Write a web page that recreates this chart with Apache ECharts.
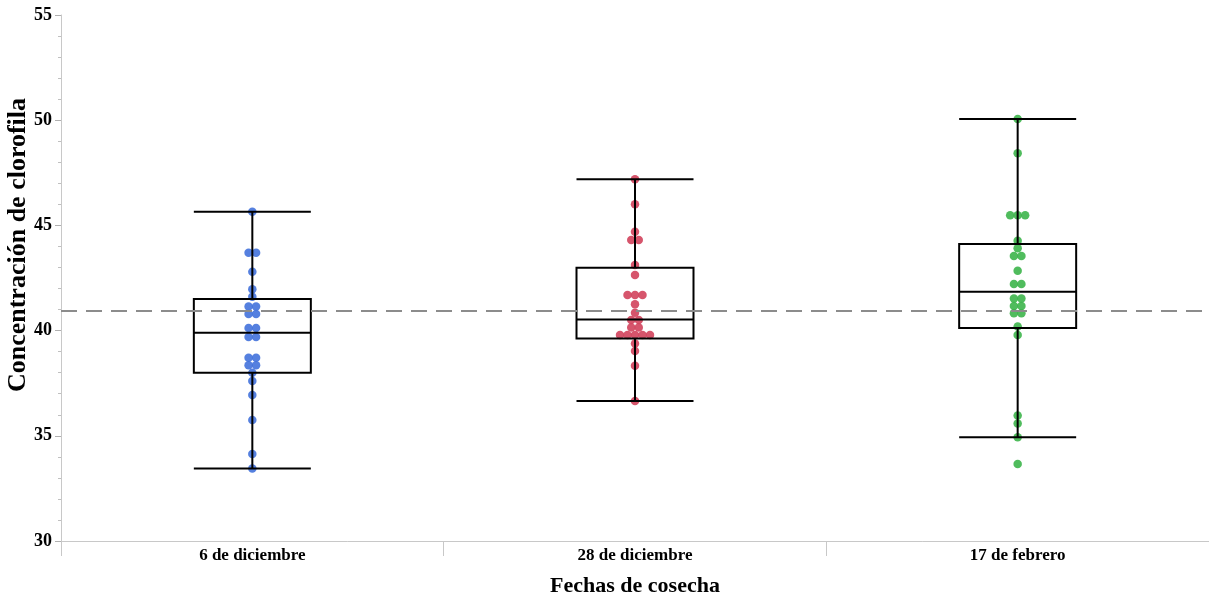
<!DOCTYPE html>
<html>
<head>
<meta charset="utf-8">
<script src="https://cdn.jsdelivr.net/npm/echarts@6/dist/echarts.min.js"></script>
<style>
  html, body { margin: 0; padding: 0; background: #fff; }
  #chart { width: 1209px; height: 602px; }
</style>
</head>
<body>
<div id="chart"></div>
<script>
// categorias y valores
var categories = ['6 de diciembre', '28 de diciembre', '17 de febrero'];

var dic6 = [45.65, 43.7, 43.7, 42.8, 41.96, 41.61, 41.15, 41.15, 40.79, 40.79,
  40.12, 40.12, 39.7, 39.7, 38.71, 38.71, 38.35, 38.35, 38.0, 37.6, 36.94, 35.75, 34.13, 33.45];
var dic28 = [47.19, 46.0, 44.7, 44.31, 44.31, 43.12, 42.64, 41.69, 41.69, 41.69, 41.25, 40.85,
  40.5, 40.5, 40.15, 40.15, 39.79, 39.79, 39.79, 39.79, 39.79, 39.39, 39.03, 38.33, 36.65];
var feb17 = [50.06, 48.43, 45.48, 45.48, 45.48, 44.27, 43.91, 43.55, 43.55, 42.85, 42.21, 42.21,
  41.53, 41.53, 41.17, 41.17, 40.82, 40.82, 40.19, 39.79, 35.96, 35.59, 34.93, 33.66];

// [min, Q1, mediana, Q3, max]
var cajas = [
  [33.45, 38.0, 39.9, 41.5, 45.65],
  [36.65, 39.63, 40.53, 42.99, 47.19],
  [34.93, 40.12, 41.85, 44.12, 50.06]
];
var mediaGeneral = 40.93;

var yTicks = [30, 35, 40, 45, 50, 55];
var colores = ['#4372dc', '#d2435c', '#3db54b'];

// separa horizontalmente los puntos con el mismo valor (tipo beeswarm)
function enjambre(vals, idx) {
  var cuenta = {};
  vals.forEach(function (v) { cuenta[v] = (cuenta[v] || 0) + 1; });
  var usados = {};
  return vals.map(function (v) {
    var n = cuenta[v];
    var i = usados[v] || 0;
    usados[v] = i + 1;
    return { value: [idx, v], symbolOffset: [(i - (n - 1) / 2) * 7.5, 0] };
  });
}

var fuente = 'Liberation Serif';
var myChart = echarts.init(document.getElementById('chart'));

var puntos = [dic6, dic28, feb17].map(function (vals, k) {
  return {
    type: 'scatter',
    data: enjambre(vals, k),
    symbolSize: 8.5,
    itemStyle: { color: colores[k], opacity: 0.9 },
    z: 2,
    silent: true
  };
});

var option = {
  animation: false,
  grid: { left: 61, right: 0, top: 15, bottom: 61, outerBoundsMode: 'none', containLabel: false },
  xAxis: {
    type: 'category',
    data: categories,
    boundaryGap: true,
    name: 'Fechas de cosecha',
    nameLocation: 'middle',
    nameGap: 34,
    nameMoveOverlap: false,
    nameTextStyle: { fontFamily: fuente, fontWeight: 'bold', fontSize: 22, color: '#000' },
    axisLine: { lineStyle: { color: '#c8c8c8', width: 1 } },
    axisTick: { show: true, interval: 0, length: 15, lineStyle: { color: '#c8c8c8' } },
    axisLabel: { fontFamily: fuente, fontWeight: 'bold', fontSize: 17, color: '#000', margin: 6 },
    splitLine: { show: false }
  },
  yAxis: {
    type: 'value',
    min: yTicks[0],
    max: yTicks[yTicks.length - 1],
    interval: 5,
    name: 'Concentración de clorofila',
    nameLocation: 'middle',
    nameGap: 30,
    nameMoveOverlap: false,
    nameTextStyle: {
      fontFamily: fuente, fontWeight: 'bold', fontSize: 26, color: '#000',
      padding: [0, 0, 0, 66]
    },
    axisLine: { show: true, lineStyle: { color: '#c8c8c8', width: 1 } },
    axisTick: { show: true, length: 6, lineStyle: { color: '#b0b0b0' } },
    minorTick: { show: true, splitNumber: 5, length: 3, lineStyle: { color: '#c0c0c0' } },
    axisLabel: { fontFamily: fuente, fontWeight: 'bold', fontSize: 18, color: '#000', margin: 9 },
    splitLine: { show: false }
  },
  series: puntos.concat([{
    type: 'boxplot',
    data: cajas,
    boxWidth: [117, 117],
    itemStyle: { color: 'rgba(0,0,0,0)', borderColor: '#000', borderWidth: 2 },
    emphasis: { disabled: true },
    z: 3,
    silent: true,
    markLine: {
      silent: true,
      symbol: 'none',
      label: { show: false },
      lineStyle: { color: '#8c8c8c', type: [16, 9], width: 2 },
      data: [{ yAxis: mediaGeneral }]
    }
  }])
};

myChart.setOption(option);
</script>
</body>
</html>
